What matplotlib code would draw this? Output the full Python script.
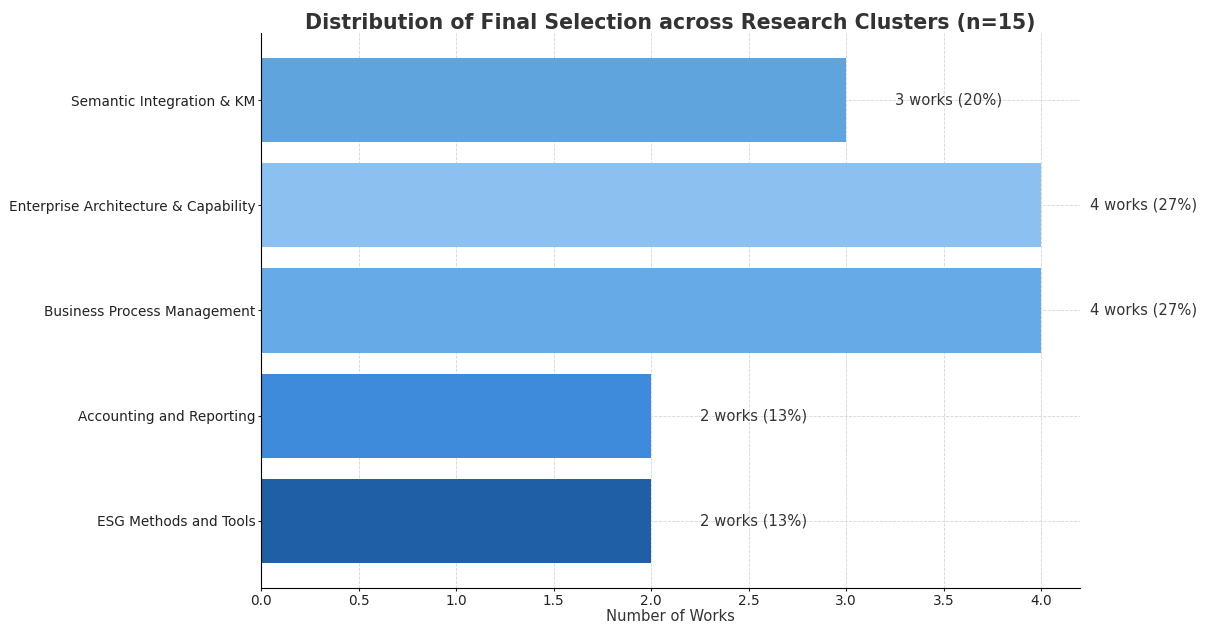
import matplotlib
matplotlib.use("Agg")
import matplotlib.pyplot as plt

# Clusters, bottom to top
clusters = ["ESG Methods and Tools", "Accounting and Reporting",
            "Business Process Management", "Enterprise Architecture & Capability",
            "Semantic Integration & KM"]
works = [2, 2, 4, 4, 3]
total = 15
colors = ["#1f5fa6", "#3d8bda", "#66aae8", "#8cc0f0", "#5fa4dc"]

fig = plt.figure(figsize=(12.05, 6.26), dpi=100)
ax = fig.add_axes([0.2166, 0.0607, 0.6797, 0.8866])

ax.barh(clusters, works, color=colors, height=0.8, zorder=2)
ax.grid(True, linestyle="--", color="#d5d5d5", linewidth=0.6, zorder=0)
ax.set_axisbelow(True)

for i, w in enumerate(works):
    ax.text(w + 0.25, i, f"{w} works ({round(w / total * 100)}%)",
            va="center", ha="left", fontsize=10.6, color="#333333")

ax.set_xlim(0, 4.2)
ax.set_xlabel("Number of Works", fontsize=10.6, color="#333333", labelpad=1)
ax.set_title("Distribution of Final Selection across Research Clusters (n=15)",
             fontsize=14.8, fontweight="bold", color="#333333", pad=2)
ax.tick_params(axis="both", labelsize=9.8, colors="#222222", length=2.5, pad=1.5)
ax.spines["top"].set_visible(False)
ax.spines["right"].set_visible(False)

fig.savefig("out.png", dpi=100)
